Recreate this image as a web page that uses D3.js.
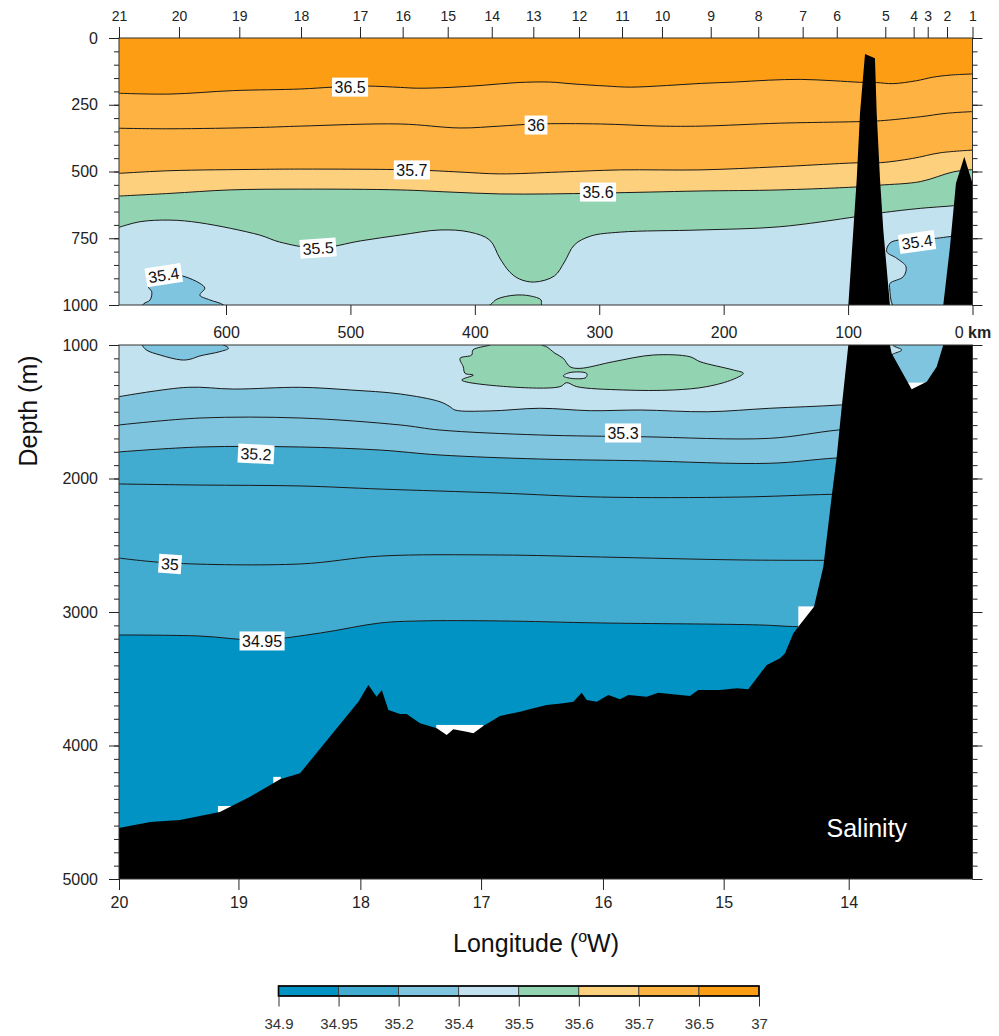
<!DOCTYPE html>
<html>
<head>
<meta charset="utf-8">
<script src="https://cdn.jsdelivr.net/npm/d3@7"></script>
<style>
  body { margin: 0; background: #fff; }
  svg { font-family: "Liberation Sans", Arial, sans-serif; }
</style>
</head>
<body>
<svg id="chart" width="999" height="1036"></svg>
<script>
// ---- data (distance in km from station 1, depth in m) ----
const stationNums = [21,20,19,18,17,16,15,14,13,12,11,10,9,8,7,6,5,4,3,2,1];
const stationKm = [686,637.8,589.3,539.7,492.3,458,421.8,386.4,353,316.3,281.7,249.6,210.4,172.2,136.5,109.1,70.1,47.3,36,20.5,0];
const kmTicks = [600,500,400,300,200,100,0];
const lonTicks = [20,19,18,17,16,15,14];
const lonTickKm = [686,590,492,395,297,200,99.5];
const depthTicksTop = [0,250,500,750,1000];
const depthTicksBot = [1000,2000,3000,4000,5000];

const levelLabels = ["34.9","34.95","35.2","35.4","35.5","35.6","35.7","36.5","37"];
const bandColors = ["#0093c4","#42abd0","#7fc5e0","#c1e2ee","#92d4b2","#fdd07e","#fdb241","#fd9d13"];

// isohalines [km, depth]
const iso365 = [[686,207],[645,210],[594,197],[540,191],[514,184],[487,180],[460,185],[446,188],[420,185],[393,177],[366,167],[340,165],[321,172],[294,180],[275,184],[246,178],[218,170],[191,165],[164,158],[138,155],[112,160],[90,166],[77,167],[64,171],[45,160],[32,147],[18,139],[-3,134]];
const iso36 = [[686,338],[645,340],[573,335],[540,330],[460,322],[412,337],[380,330],[351,322],[299,322],[251,330],[218,330],[155,319],[90,313],[74,310],[42,295],[21,282],[-3,275]];
const iso357 = [[686,507],[645,497],[573,492],[540,491],[450,494],[412,502],[380,509],[332,502],[283,494],[219,494],[155,482],[90,467],[74,467],[48,451],[26,430],[-3,419]];
const iso356 = [[686,592],[645,582],[597,569],[540,566],[460,569],[420,577],[380,584],[340,584],[301,581],[259,577],[219,573],[155,569],[90,557],[74,551],[42,538],[15,501],[-3,492]];
const iso355 = [[686,709],[669,688],[645,682],[621,692],[573,738],[557,764],[526,787],[492,760],[460,738],[428,719],[404,727],[388,757],[380,824],[372,876],[364,903],[352,914],[336,891],[328,839],[320,775],[307,742],[283,727],[219,719],[155,707],[93,669],[72,654],[42,638],[15,628],[-3,618]];
const iso354 = [[686,1387],[631,1317],[594,1330],[540,1317],[500,1337],[460,1367],[428,1425],[420,1462],[416,1487],[388,1494],[348,1474],[307,1492],[267,1487],[213,1500],[163,1474],[106,1449],[58,1412],[-5,1375]];
const iso353 = [[686,1599],[621,1547],[540,1547],[460,1599],[428,1637],[348,1674],[267,1687],[163,1699],[108,1637],[58,1607],[-5,1577]];
const iso352 = [[686,1801],[621,1764],[540,1764],[476,1787],[428,1824],[348,1854],[267,1867],[163,1886],[109,1846],[-5,1801]];
const iso351 = [[686,2041],[621,2049],[540,2056],[476,2079],[380,2109],[299,2139],[187,2139],[112,2118],[-5,2101]];
const iso35 = [[686,2596],[645,2633],[540,2640],[476,2581],[380,2573],[299,2588],[187,2610],[120,2613],[-5,2610]];
const iso3495 = [[686,3172],[621,3180],[573,3210],[524,3157],[476,3082],[444,3067],[380,3067],[299,3082],[171,3097],[140,3110],[-5,3112]];

// closed patches
const blob354West = [[667,1000],[661,981],[659.7,950],[662.5,931],[655,900],[640,888],[633,894],[621,919],[617,937],[621,963],[613,981],[602,1000],[598,1025],[605,1050],[621,1082],[629,1107],[636,1112],[653,1075],[664,1037]];
const blob354East = [[66.3,768],[59.9,757],[28.8,750],[18.1,744],[-5,742],[-5,2000],[70,2000],[70,1100],[63.7,1067],[56.9,1037],[64.3,1000],[66.5,940],[66.3,919],[55.6,894],[53.4,857],[60.9,825],[69,800]];
const blob355 = [[387.8,1000],[401.5,1037],[402.5,1075],[411.9,1100],[409.3,1163],[407.9,1212],[401.2,1225],[410.5,1262],[374.4,1312],[331.5,1312],[326.2,1282],[318.1,1312],[280.7,1337],[240.5,1337],[213.6,1312],[192.3,1257],[184.2,1212],[192.3,1187],[219,1125],[227.1,1088],[256.5,1075],[288.7,1125],[315.5,1175],[323.5,1163],[328.9,1100],[335.6,1062],[342.3,1013],[346.3,1000],[346.8,981],[355.6,966],[367.7,963],[382.2,978]];
const hole355 = [[328.9,1232],[323.5,1206],[310.1,1213],[310.6,1243],[321.8,1251]];

// bottom topography [km, depth]
const bathymetry = [[686,4618],[661,4573],[637,4558],[605,4498],[581,4386],[556.6,4253],[540.5,4208],[493.6,3672],[485.6,3547],[478.9,3634],[474.8,3584],[469.5,3734],[460.1,3764],[454.8,3764],[444.1,3834],[430.6,3871],[422.6,3921],[417.3,3879],[406.5,3897],[401.2,3909],[393.2,3854],[379.8,3779],[363.7,3747],[353,3721],[342.2,3697],[328.9,3684],[320.8,3672],[314.1,3604],[310.1,3659],[302,3672],[292.7,3622],[283.3,3654],[276.6,3622],[261.9,3634],[252.5,3604],[227.1,3629],[220.4,3584],[202.9,3584],[189.5,3571],[180.2,3579],[165.4,3397],[154.7,3347],[150.7,3309],[144,3160],[140,3110],[127.4,2960],[119.9,2661],[113.2,2136],[109.1,1836],[105.1,1462],[99.8,1000],[93.1,532],[90.4,281],[86.4,60],[78.4,76],[77,281],[74.3,532],[71.7,719],[66.3,1004],[65,1062],[48.9,1332],[36.8,1275],[28.8,1163],[23.5,1000],[18.1,782],[13.3,544],[6.6,445],[0,544],[-5,560]];
// stretches with no data above the bottom [kmFrom, kmTo, depth]
const dataGaps = [[140,127.4,2958],[431,393.2,3846],[562,556,4235],[606.5,595.3,4453],[52,38,1282]];

// contour labels [text, km, depth, angle]
const contourLabels = [
  ["36.5",500.3,184,0],["36",350.8,326,0],["35.7",450.6,494,0],["35.6",301,577,0],
  ["35.5",526,787,-4],["35.4",650,888,-9],["35.4",44.6,764,-8],
  ["35.3",280.9,1659,0],["35.2",575.9,1816,3],["35",645,2640,4],["34.95",571,3217,0]
];

// ---- drawing ----
const svg = d3.select("#chart");
const defs = svg.append("defs");

const x = d3.scaleLinear().domain([686, 0]).range([119, 972.5]);
const yTop = d3.scaleLinear().domain([0, 1000]).range([38, 305]);
const yBot = d3.scaleLinear().domain([1000, 5000]).range([345, 879]);

const fills = [[iso3495,1],[iso352,2],[iso354,3],[iso355,4],[iso356,5],[iso357,6],[iso365,7]];
const isolines = [iso365, iso36, iso357, iso356, iso355, iso354, iso353, iso352, iso351, iso35, iso3495];
const patches = [[blob354West,2],[blob354East,2],[blob355,4],[hole355,3]];

const openCurve = d3.curveCatmullRom.alpha(0.5);
const closedCurve = d3.curveCatmullRomClosed.alpha(0.5);

function drawPanel(y, clipId, d0, d1) {
  defs.append("clipPath").attr("id", clipId)
    .append("rect")
    .attr("x", x(686)).attr("y", y(d0))
    .attr("width", x(0) - x(686)).attr("height", y(d1) - y(d0));

  const g = svg.append("g").attr("clip-path", "url(#" + clipId + ")");

  g.append("rect")
    .attr("x", x(686)).attr("y", y(d0))
    .attr("width", x(0) - x(686)).attr("height", y(d1) - y(d0))
    .attr("fill", bandColors[0]);

  const band = d3.area()
    .x(d => x(d[0])).y0(y(0) - 5).y1(d => y(d[1]))
    .curve(openCurve);
  fills.forEach(f => {
    g.append("path").datum(f[0]).attr("d", band).attr("fill", bandColors[f[1]]);
  });

  const line = d3.line().x(d => x(d[0])).y(d => y(d[1])).curve(openCurve);
  const ring = d3.line().x(d => x(d[0])).y(d => y(d[1])).curve(closedCurve);

  patches.forEach(p => {
    g.append("path").datum(p[0]).attr("d", ring)
      .attr("fill", bandColors[p[1]])
      .attr("stroke", "#1a1a1a").attr("stroke-width", 1);
  });

  isolines.forEach(l => {
    g.append("path").datum(l).attr("d", line)
      .attr("fill", "none").attr("stroke", "#1a1a1a").attr("stroke-width", 1);
  });

  dataGaps.forEach(gp => {
    g.append("rect")
      .attr("x", x(gp[0])).attr("width", x(gp[1]) - x(gp[0]))
      .attr("y", y(gp[2])).attr("height", y(6000) - y(gp[2]))
      .attr("fill", "#fff");
  });

  g.append("path").datum(bathymetry)
    .attr("d", d3.area().x(d => x(d[0])).y0(y(6000)).y1(d => y(d[1])))
    .attr("fill", "#000");

  // only the labels that belong to this panel
  contourLabels.filter(l => l[2] >= d0 && l[2] <= d1).forEach(l => {
    const lg = g.append("g")
      .attr("transform", "translate(" + x(l[1]) + "," + y(l[2]) + ") rotate(" + l[3] + ")");
    const box = lg.append("rect").attr("fill", "#fff");
    const t = lg.append("text")
      .attr("text-anchor", "middle").attr("dy", "0.36em")
      .attr("font-size", 16).attr("fill", "#111")
      .text(l[0]);
    const w = t.node().getComputedTextLength() + 5;
    box.attr("x", -w / 2).attr("y", -9.5).attr("width", w).attr("height", 19);
  });

  svg.append("rect")
    .attr("x", x(686)).attr("y", y(d0))
    .attr("width", x(0) - x(686)).attr("height", y(d1) - y(d0))
    .attr("fill", "none").attr("stroke", "#333").attr("stroke-width", 1);
}

drawPanel(yTop, "clipTop", 0, 1000);
drawPanel(yBot, "clipBot", 1000, 5000);

// depth axes, left and right, with minor ticks
function bare(a) {
  a.select(".domain").remove();
  a.selectAll(".tick text").filter(function () { return this.textContent === ""; }).remove();
}
function depthAxes(y, majors, step, d0, d1) {
  const minors = d3.range(d0, d1 + 1, step);
  svg.append("g").attr("transform", "translate(" + x(686) + ",0)")
    .call(d3.axisLeft(y).tickValues(minors).tickSize(5).tickFormat(""))
    .call(bare).attr("color", "#222");
  svg.append("g").attr("transform", "translate(" + x(686) + ",0)")
    .call(d3.axisLeft(y).tickValues(majors).tickSize(10).tickPadding(11).tickFormat(d3.format("d")))
    .call(bare)
    .attr("color", "#222").attr("font-size", 16).attr("font-family", null);
  svg.append("g").attr("transform", "translate(" + x(0) + ",0)")
    .call(d3.axisRight(y).tickValues(minors).tickSize(5).tickFormat(""))
    .call(bare).attr("color", "#222");
  svg.append("g").attr("transform", "translate(" + x(0) + ",0)")
    .call(d3.axisRight(y).tickValues(majors).tickSize(10).tickFormat(""))
    .call(bare).attr("color", "#222");
}
depthAxes(yTop, depthTicksTop, 50, 0, 1000);
depthAxes(yBot, depthTicksBot, 100, 1000, 5000);

// stations on top
svg.append("g").attr("transform", "translate(0," + yTop(0) + ")")
  .call(d3.axisTop(x).tickValues(stationKm).tickFormat((d, i) => stationNums[i]).tickSize(11).tickPadding(6))
  .call(bare)
  .attr("color", "#222").attr("font-size", 14).attr("font-family", null);

// distance axis between panels
const kmAxis = svg.append("g").attr("transform", "translate(0," + yTop(1000) + ")")
  .call(d3.axisBottom(x).tickValues(kmTicks).tickSize(10).tickPadding(12))
  .call(bare)
  .attr("color", "#222").attr("font-size", 16).attr("font-family", null);
kmAxis.selectAll(".tick text").filter(d => d === 0).each(function () {
  const t = d3.select(this).text("0 ");
  t.append("tspan").attr("font-weight", "bold").text("km");
});

// longitude axis
svg.append("g").attr("transform", "translate(0," + yBot(5000) + ")")
  .call(d3.axisBottom(x).tickValues(lonTickKm).tickFormat((d, i) => lonTicks[i]).tickSize(11).tickPadding(7))
  .call(bare)
  .attr("color", "#222").attr("font-size", 16).attr("font-family", null);

// titles
svg.append("text")
  .attr("transform", "translate(37,411) rotate(-90)")
  .attr("text-anchor", "middle").attr("font-size", 25).attr("fill", "#111")
  .text("Depth (m)");

const lonTitle = svg.append("text")
  .attr("x", 536).attr("y", 952)
  .attr("text-anchor", "middle").attr("font-size", 25).attr("fill", "#111");
lonTitle.append("tspan").text("Longitude (");
lonTitle.append("tspan").attr("font-size", 16).attr("dy", -10).text("o");
lonTitle.append("tspan").attr("dy", 10).text("W)");

svg.append("text")
  .attr("x", 826.5).attr("y", 836.5)
  .attr("font-size", 25).attr("fill", "#fff")
  .text("Salinity");

// colour bar
const cb = d3.scaleLinear().domain([0, 8]).range([278.5, 759]);
const cbY = 986, cbH = 10;
svg.append("g").selectAll("rect")
  .data(bandColors)
  .join("rect")
  .attr("x", (d, i) => cb(i)).attr("y", cbY)
  .attr("width", (d, i) => cb(i + 1) - cb(i)).attr("height", cbH)
  .attr("fill", d => d)
  .attr("stroke", "#333").attr("stroke-width", 0.8);
svg.append("rect")
  .attr("x", cb(0)).attr("y", cbY).attr("width", cb(8) - cb(0)).attr("height", cbH)
  .attr("fill", "none").attr("stroke", "#000").attr("stroke-width", 1.6);
svg.append("g").attr("transform", "translate(0," + (cbY + cbH) + ")")
  .call(d3.axisBottom(cb).tickValues(d3.range(9)).tickFormat(i => levelLabels[i]).tickSize(10.5).tickPadding(12))
  .call(a => a.select(".domain").remove())
  .attr("color", "#333").attr("font-size", 15).attr("font-family", null);
</script>
</body>
</html>
